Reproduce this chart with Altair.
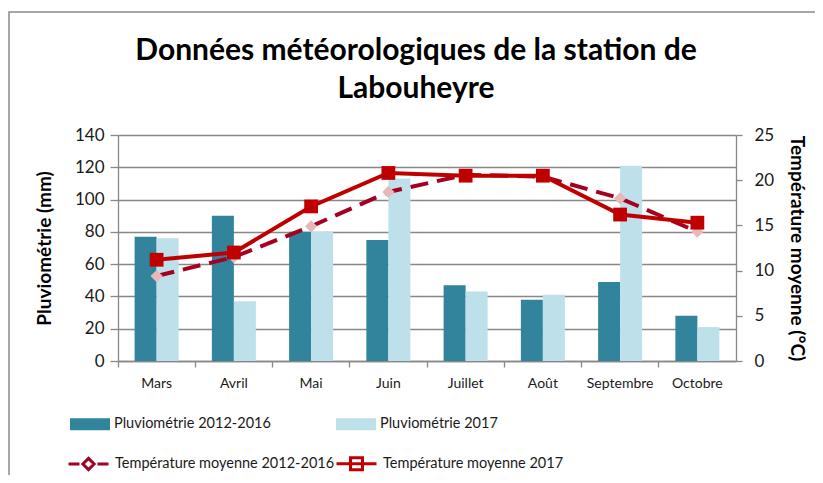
import altair as alt
import pandas as pd

months = ["Mars", "Avril", "Mai", "Juin", "Juillet", "Août", "Septembre", "Octobre"]
pluvio_moy = [77, 90, 80, 75, 47, 38, 49, 28]
pluvio_2017 = [76, 37, 80, 113, 43, 41, 121, 21]
temp_moy = [9.4, 11.5, 14.9, 18.7, 20.6, 20.4, 18.0, 14.3]
temp_2017 = [11.2, 12.0, 17.1, 20.8, 20.5, 20.5, 16.2, 15.3]

S_P1 = "Pluviométrie 2012-2016"
S_P2 = "Pluviométrie 2017"
S_T1 = "Température moyenne 2012-2016"
S_T2 = "Température moyenne 2017"

rain = pd.DataFrame({
    "mois": months * 2,
    "serie": [S_P1] * len(months) + [S_P2] * len(months),
    "valeur": pluvio_moy + pluvio_2017,
})
temp = pd.DataFrame({
    "mois": months * 2,
    "serie": [S_T1] * len(months) + [S_T2] * len(months),
    "valeur": temp_moy + temp_2017,
})

FONT = "Lato, Open Sans, sans-serif"
GRID = "#888888"
TXT = "#1a1a1a"

xscale = alt.Scale(paddingInner=0, paddingOuter=0)

bars = alt.Chart(rain).mark_bar().encode(
    x=alt.X("mois:N", sort=months, scale=xscale,
            axis=alt.Axis(title=None, orient="bottom", ticks=False, labelAngle=0,
                          labelFont=FONT, labelFontSize=14, labelColor=TXT,
                          labelPadding=15, domainColor=GRID, domainWidth=1.3)),
    xOffset=alt.XOffset("serie:N", sort=[S_P1, S_P2],
                        scale=alt.Scale(paddingInner=0, paddingOuter=0.755)),
    y=alt.Y("valeur:Q", scale=alt.Scale(domain=[0, 140]),
            axis=alt.Axis(orient="left", values=list(range(0, 141, 20)),
                          title="Pluviométrie (mm)", grid=True, gridColor=GRID,
                          gridWidth=1.3, tickSize=8, tickColor=GRID, tickWidth=1.3,
                          domainColor=GRID, domainWidth=1.3,
                          labelFont=FONT, labelFontSize=17, labelColor=TXT,
                          labelPadding=6, titleFont=FONT, titleFontSize=19,
                          titleFontWeight="bold", titleColor="#000000",
                          titlePadding=20)),
    color=alt.Color("serie:N", sort=[S_P1, S_P2],
                    scale=alt.Scale(domain=[S_P1, S_P2], range=["#31849b", "#bde0ea"]),
                    legend=alt.Legend(title=None, orient="none", legendX=-48, legendY=269,
                                      direction="horizontal", columns=2,
                                      symbolType="M-1,-0.3H1V0.3H-1Z", symbolSize=1600,
                                      symbolStrokeWidth=0, labelFont=FONT,
                                      labelFontSize=14.5, labelColor=TXT, labelOffset=4,
                                      columnPadding=65, padding=0, labelLimit=400)),
)

tx = alt.X("mois:N", sort=months, scale=xscale,
           axis=alt.Axis(title=None, orient="bottom", labels=False, ticks=True,
                         bandPosition=0, tickSize=6, tickColor=GRID, tickWidth=1.3,
                         domain=False, grid=False))
ty = alt.Y("valeur:Q", scale=alt.Scale(domain=[0, 25]),
           axis=alt.Axis(orient="right", values=[0, 5, 10, 15, 20, 25],
                         title="Température moyenne (°C)", grid=False,
                         tickSize=6, tickColor=GRID, tickWidth=1.3,
                         domainColor=GRID, domainWidth=1.3,
                         labelFont=FONT, labelFontSize=17, labelColor=TXT,
                         labelPadding=12, titleFont=FONT, titleFontSize=19,
                         titleFontWeight="bold", titleColor="#000000",
                         titlePadding=13))

tbase = alt.Chart(temp).encode(x=tx, y=ty)

line1 = tbase.transform_filter(alt.datum.serie == S_T1).mark_line(
    color="#a50021", strokeWidth=4, strokeDash=[18, 9])
line2 = tbase.transform_filter(alt.datum.serie == S_T2).mark_line(
    color="#c00000", strokeWidth=4)
pts1 = tbase.transform_filter(alt.datum.serie == S_T1).mark_point(
    shape="diamond", filled=True, fill="#e6b9b8", size=150, opacity=1)
pts2 = tbase.transform_filter(alt.datum.serie == S_T2).mark_point(
    shape="square", filled=True, fill="#c00000", size=190, opacity=1)

leg_params = dict(title=None, orient="none", legendX=-51, legendY=307,
                  direction="horizontal", columns=2, symbolSize=1600,
                  symbolStrokeWidth=3, labelFont=FONT, labelFontSize=14.5,
                  labelColor=TXT, labelOffset=5, columnPadding=-5, padding=0,
                  labelLimit=400)
dom_t = [S_T1, S_T2]
legend_layer = tbase.mark_point(filled=True, opacity=0).encode(
    shape=alt.Shape("serie:N", sort=dom_t, scale=alt.Scale(domain=dom_t, range=[
        "M-1,0H-0.45M0.45,0H1M0,-0.28L0.28,0L0,0.28L-0.28,0Z",
        "M-1,0H1M-0.3,-0.3H0.3V0.3H-0.3Z"]), legend=alt.Legend(**leg_params)),
    fill=alt.Fill("serie:N", sort=dom_t, scale=alt.Scale(domain=dom_t, range=["#e6b9b8", "#c00000"]),
                  legend=alt.Legend(**leg_params)),
    stroke=alt.Stroke("serie:N", sort=dom_t, scale=alt.Scale(domain=dom_t, range=["#a50021", "#c00000"]),
                      legend=alt.Legend(**leg_params)),
)

temps = alt.layer(line1, line2, pts1, pts2, legend_layer)

frame = alt.Chart(pd.DataFrame({"k": [0]})).mark_rect(
    fillOpacity=0, stroke="#8a8a8a", strokeWidth=1.5).encode(
    x=alt.value(-109), y=alt.value(-123), x2=alt.value(760), y2=alt.value(360))

chart = alt.layer(frame, bars, temps).resolve_scale(y="independent").resolve_axis(
    x="independent", y="independent"
).properties(
    width=618, height=226,
    padding={"left": 110, "top": 127, "right": 79, "bottom": 114},
    autosize=alt.AutoSizeParams(type="none"),
    title=alt.TitleParams(
        text=["Données météorologiques de la station de", "Labouheyre"],
        font=FONT, fontSize=30, fontWeight="bold", color="#000000",
        lineHeight=38, anchor="middle", frame="group", dx=-11, offset=29, dy=122),
).configure_view(strokeWidth=0).configure(background="white")

chart.save("out.html", embed_options={"renderer": "svg", "actions": False})
